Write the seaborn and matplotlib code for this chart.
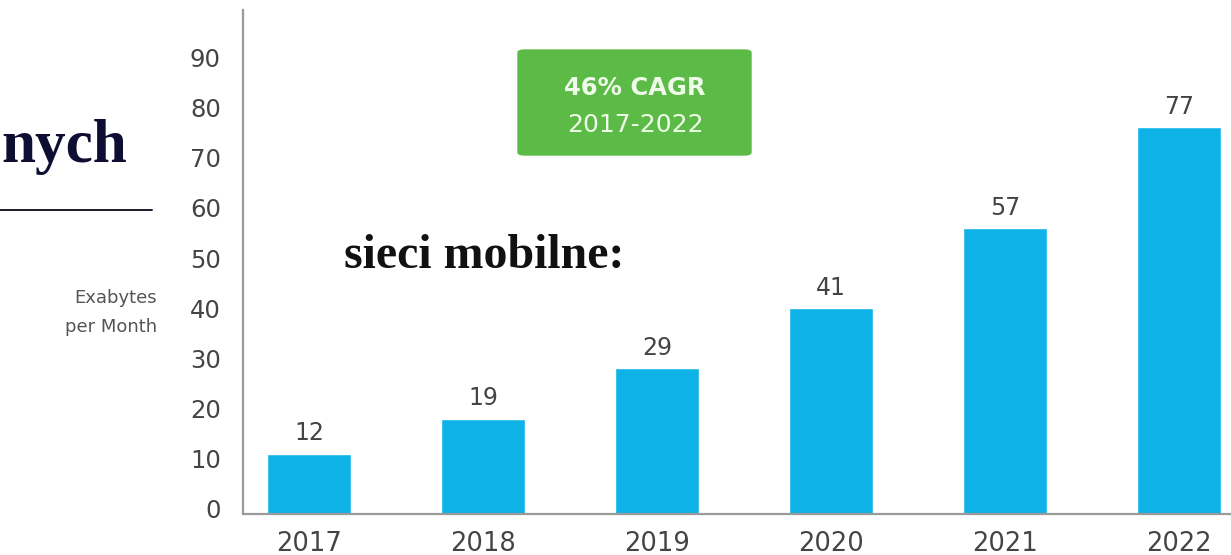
import matplotlib
matplotlib.use("Agg")
import matplotlib.pyplot as plt
from matplotlib.patches import FancyBboxPatch
import matplotlib.transforms as mtransforms
import seaborn as sns
import pandas as pd

# Global mobile data traffic, exabytes per month
years = ["2017", "2018", "2019", "2020", "2021", "2022"]
traffic = [12, 19, 29, 41, 57, 77]
y_ticks = [0, 10, 20, 30, 40, 50, 60, 70, 80, 90]
cagr_label = "46% CAGR"
cagr_period = "2017-2022"

W, H = 1231, 555
DPI = 100

sns.set_theme(style="white")
plt.rcParams["font.family"] = ["DejaVu Sans"]

BAR = "#0fb2e6"
GREEN = "#5cba47"
GREY_TXT = "#444444"
AXIS = "#9a9a9a"

fig = plt.figure(figsize=(W / DPI, H / DPI), dpi=DPI)
fig.patch.set_facecolor("white")


def px(x, y):
    """Pixel coordinates (from top-left) to figure fraction."""
    return x / W, 1 - y / H


ax_left, ax_right, ax_top, ax_bottom = 243, 1231, 10, 514
ax = fig.add_axes([ax_left / W, (H - ax_bottom) / H,
                   (ax_right - ax_left) / W, (ax_bottom - ax_top) / H])

df = pd.DataFrame({"year": years, "traffic": traffic})
sns.barplot(data=df, x="year", y="traffic", color=BAR, width=0.483,
            saturation=1, ax=ax)

for cont in ax.containers:
    ax.bar_label(cont, labels=[str(v) for v in traffic], padding=6,
                 fontsize=17, color=GREY_TXT)

ax.set_xlim(-0.379, 5.299)
ax.set_ylim(0, 100.4)
ax.set_yticks(y_ticks)
ax.set_yticklabels([str(t) for t in y_ticks])
ax.set_xlabel("")
ax.set_ylabel("")

ax.tick_params(axis="y", length=0, pad=16, labelsize=17.5, labelcolor=GREY_TXT)
ax.tick_params(axis="x", length=0, pad=12, labelsize=18.5, labelcolor=GREY_TXT)

# nudge y tick labels slightly upward
offset = mtransforms.ScaledTranslation(0, 5 / DPI, fig.dpi_scale_trans)
for lab in ax.get_yticklabels():
    lab.set_transform(lab.get_transform() + offset)

for side in ["top", "right"]:
    ax.spines[side].set_visible(False)
for side in ["left", "bottom"]:
    ax.spines[side].set_color(AXIS)
    ax.spines[side].set_linewidth(1.6)
ax.grid(False)

# y-axis unit label
fig.text(*px(157, 298), "Exabytes", ha="right", va="center",
         fontsize=13, color="#555555")
fig.text(*px(157, 327), "per Month", ha="right", va="center",
         fontsize=13, color="#555555")

# growth-rate callout
bx0, by0, bx1, by1 = 517, 47, 752, 158
box = FancyBboxPatch(((bx0 + 4) / W, 1 - (by1 - 4) / H),
                     (bx1 - bx0 - 8) / W, (by1 - by0 - 8) / H,
                     boxstyle="round,pad=0.003,rounding_size=0.006",
                     transform=fig.transFigure, facecolor=GREEN,
                     edgecolor=GREEN, linewidth=0, zorder=3)
fig.patches.append(box)
fig.text(*px(635, 88), cagr_label, ha="center", va="center",
         fontsize=17.5, fontweight="bold", color="#eefbe8", zorder=4)
fig.text(*px(635, 125), cagr_period, ha="center", va="center",
         fontsize=18, color="#eefbe8", zorder=4)

# slide text
fig.text(*px(344, 268), "sieci mobilne:", ha="left", va="baseline",
         fontsize=34.5, fontweight="bold", color="#111111",
         family=["Liberation Serif", "DejaVu Serif"])
fig.text(*px(1, 162), "nych", ha="left", va="baseline",
         fontsize=44, fontweight="bold", color="#0e0e33",
         family=["Liberation Serif", "DejaVu Serif"])
fig.add_artist(plt.Line2D([0, 152 / W], [1 - 210 / H] * 2,
                          transform=fig.transFigure, color="#1a1a2e",
                          linewidth=1.4))

fig.savefig("out.png", dpi=DPI, facecolor="white")
